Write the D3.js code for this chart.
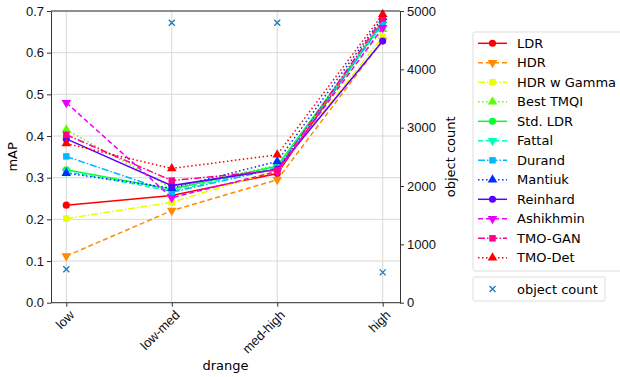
<!DOCTYPE html>
<html>
<head>
<meta charset="utf-8">
<script src="https://cdn.jsdelivr.net/npm/d3@7"></script>
<style>
    body { margin: 0; background: #fff; }
    svg { font-family: "DejaVu Sans", sans-serif; }
    .grid line { stroke: #d8d8d8; stroke-width: 1; }
    .axis path, .axis line { stroke: #333; }
    .axis text { font-size: 13px; fill: #111; }
</style>
</head>
<body>
<svg id="chart" width="620" height="377"></svg>
<script>
// categories
var dranges = ["low", "low-med", "med-high", "high"];

// mAP per method, one array per series (low, low-med, med-high, high)
var ldr       = [0.234, 0.257, 0.310, 0.675];
var hdr       = [0.112, 0.221, 0.295, 0.630];
var hdrGamma  = [0.202, 0.241, 0.318, 0.638];
var bestTmqi  = [0.415, 0.275, 0.330, 0.656];
var stdLdr    = [0.319, 0.272, 0.328, 0.672];
var fattal    = [0.315, 0.268, 0.325, 0.668];
var durand    = [0.351, 0.265, 0.322, 0.670];
var mantiuk   = [0.311, 0.275, 0.339, 0.685];
var reinhard  = [0.393, 0.281, 0.320, 0.628];
var ashikhmin = [0.480, 0.252, 0.315, 0.660];
var tmoGan    = [0.403, 0.293, 0.318, 0.682];
var tmoDet    = [0.382, 0.322, 0.355, 0.692];

var objectCount = [573, 4800, 4800, 520];

var leftTicks = [0, 0.1, 0.2, 0.3, 0.4, 0.5, 0.6, 0.7];
var rightTicks = [0, 1000, 2000, 3000, 4000, 5000];

var series = [
    { name: "LDR",         values: ldr,       dash: null,      marker: "circle" },
    { name: "HDR",         values: hdr,       dash: "5,3",     marker: "tridown" },
    { name: "HDR w Gamma", values: hdrGamma,  dash: "7,2,1.5,2", marker: "square" },
    { name: "Best TMQI",   values: bestTmqi,  dash: "1.5,2.5", marker: "triup" },
    { name: "Std. LDR",    values: stdLdr,    dash: null,      marker: "circle" },
    { name: "Fattal",      values: fattal,    dash: "5,3",     marker: "tridown" },
    { name: "Durand",      values: durand,    dash: "7,2,1.5,2", marker: "square" },
    { name: "Mantiuk",     values: mantiuk,   dash: "1.5,2.5", marker: "triup" },
    { name: "Reinhard",    values: reinhard,  dash: null,      marker: "circle" },
    { name: "Ashikhmin",   values: ashikhmin, dash: "5,3",     marker: "tridown" },
    { name: "TMO-GAN",     values: tmoGan,    dash: "7,2,1.5,2", marker: "square" },
    { name: "TMO-Det",     values: tmoDet,    dash: "1.5,2.5", marker: "triup" }
];

// hsv colormap sampled at 12 points
series.forEach(function(s, i) {
    s.color = d3.hsl(i / 11 * 360, 1, 0.5).formatHex();
});

var svg = d3.select("#chart");
var plotLeft = 51, plotRight = 400, plotTop = 11, plotBottom = 302.7;

var x = d3.scalePoint().domain(dranges).range([66.3, 382.7]);
var y = d3.scaleLinear().domain([0, 0.7]).range([plotBottom, plotTop]);
var y2 = d3.scaleLinear().domain([0, 5000]).range([plotBottom, plotTop]);

// grid
var grid = svg.append("g").classed("grid", true);
grid.selectAll(".gy").data(leftTicks).enter().append("line")
    .attr("x1", plotLeft).attr("x2", plotRight)
    .attr("y1", function(d) { return y(d); })
    .attr("y2", function(d) { return y(d); });
grid.selectAll(".gx").data(dranges).enter().append("line")
    .attr("x1", function(d) { return x(d); })
    .attr("x2", function(d) { return x(d); })
    .attr("y1", plotTop).attr("y2", plotBottom);

var symbolFor = function(m) {
    if (m === "circle") return d3.symbol().type(d3.symbolCircle).size(40)();
    if (m === "square") return d3.symbol().type(d3.symbolSquare).size(42)();
    if (m === "triup") return d3.symbol().type(d3.symbolTriangle).size(40)();
    return d3.symbol().type(d3.symbolTriangle).size(40)();
};
var markerTransform = function(m, px, py) {
    return "translate(" + px + "," + py + ")" + (m === "tridown" ? " rotate(180)" : "");
};

var line = d3.line()
    .x(function(d, i) { return x(dranges[i]); })
    .y(function(d) { return y(d); });

var gSeries = svg.append("g");
series.forEach(function(s) {
    var g = gSeries.append("g");
    g.append("path")
        .attr("d", line(s.values))
        .attr("fill", "none")
        .attr("stroke", s.color)
        .attr("stroke-width", 1.5)
        .attr("stroke-dasharray", s.dash);
    g.selectAll("path.m").data(s.values).enter().append("path")
        .classed("m", true)
        .attr("d", symbolFor(s.marker))
        .attr("transform", function(d, i) { return markerTransform(s.marker, x(dranges[i]), y(d)); })
        .attr("fill", s.color);
});

// object count crosses
var cross = "M-3,-3L3,3M-3,3L3,-3";
svg.append("g").selectAll("path").data(objectCount).enter().append("path")
    .attr("d", cross)
    .attr("transform", function(d, i) { return "translate(" + x(dranges[i]) + "," + y2(d) + ")"; })
    .attr("stroke", "#1f77b4")
    .attr("stroke-width", 1.3)
    .attr("fill", "none");

// axes
svg.append("g").classed("axis", true)
    .attr("transform", "translate(" + plotLeft + ",0)")
    .call(d3.axisLeft(y).tickValues(leftTicks).tickFormat(d3.format(".1f")).tickSize(4).tickPadding(3).tickSizeOuter(0));

svg.append("g").classed("axis", true)
    .attr("transform", "translate(" + plotRight + ",0)")
    .call(d3.axisRight(y2).tickValues(rightTicks).tickFormat(d3.format("d")).tickSize(4).tickPadding(3).tickSizeOuter(0));

var xAxis = svg.append("g").classed("axis", true)
    .attr("transform", "translate(0," + plotBottom + ")")
    .call(d3.axisBottom(x).tickSize(4).tickSizeOuter(0));
xAxis.select(".domain").attr("d", "M" + plotLeft + ",0H" + plotRight);
xAxis.selectAll(".tick text")
    .attr("text-anchor", "end")
    .attr("dy", "0.35em")
    .attr("transform", "translate(5,10) rotate(-45)")
    .attr("x", 0).attr("y", 0);

// top frame
svg.append("line").attr("x1", plotLeft).attr("x2", plotRight)
    .attr("y1", plotTop).attr("y2", plotTop).attr("stroke", "#333");

// axis labels
svg.append("text").attr("transform", "translate(17," + ((plotTop + plotBottom) / 2) + ") rotate(-90)")
    .attr("text-anchor", "middle").attr("font-size", 13).text("mAP");
svg.append("text").attr("transform", "translate(455," + ((plotTop + plotBottom) / 2) + ") rotate(-90)")
    .attr("text-anchor", "middle").attr("font-size", 13).text("object count");
svg.append("text").attr("x", (plotLeft + plotRight) / 2).attr("y", 370)
    .attr("text-anchor", "middle").attr("font-size", 13).text("drange");

// legend
var legend = svg.append("g").attr("transform", "translate(473,32)");
legend.append("rect").attr("width", 150).attr("height", 239).attr("rx", 2)
    .attr("fill", "#fff").attr("stroke", "#ddd");
var rows = legend.selectAll(".row").data(series).enter().append("g")
    .attr("transform", function(d, i) { return "translate(0," + (11.3 + i * 19.5) + ")"; });
rows.append("line").attr("x1", 5).attr("x2", 34).attr("y1", 0).attr("y2", 0)
    .attr("stroke", function(d) { return d.color; })
    .attr("stroke-width", 1.5)
    .attr("stroke-dasharray", function(d) { return d.dash; });
rows.append("path")
    .attr("d", function(d) { return symbolFor(d.marker); })
    .attr("transform", function(d) { return markerTransform(d.marker, 19.5, 0); })
    .attr("fill", function(d) { return d.color; });
rows.append("text").attr("x", 44).attr("dy", "0.35em").attr("font-size", 13)
    .text(function(d) { return d.name; });

var legend2 = svg.append("g").attr("transform", "translate(473,277)");
legend2.append("rect").attr("width", 132).attr("height", 24).attr("rx", 2)
    .attr("fill", "#fff").attr("stroke", "#ddd");
legend2.append("path").attr("d", cross)
    .attr("transform", "translate(19.5,12)")
    .attr("stroke", "#1f77b4").attr("stroke-width", 1.3);
legend2.append("text").attr("x", 44).attr("y", 12).attr("dy", "0.35em").attr("font-size", 13)
    .text("object count");
</script>
</body>
</html>
